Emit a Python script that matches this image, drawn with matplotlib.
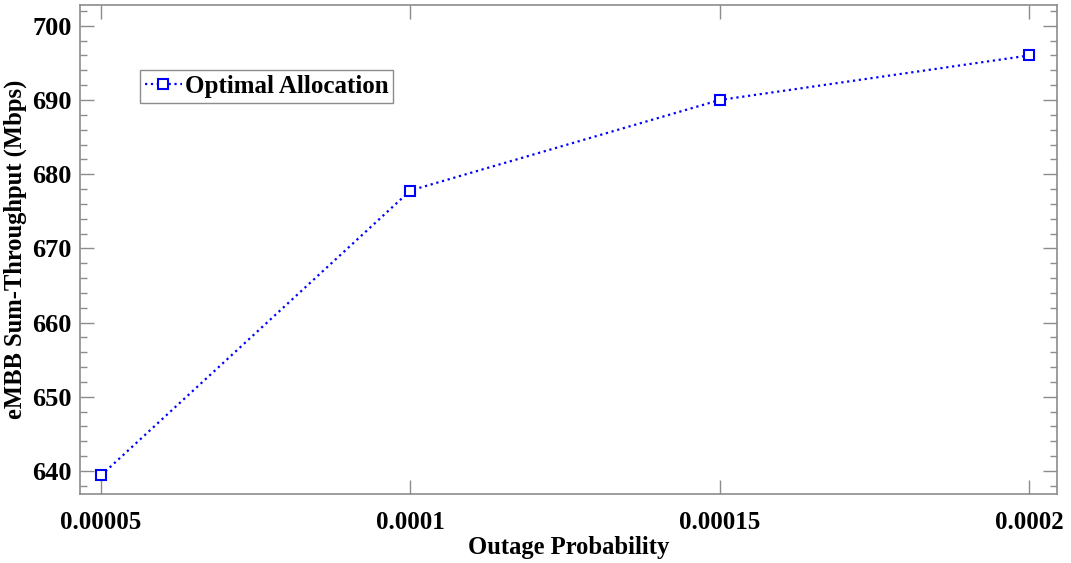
import matplotlib
matplotlib.use('Agg')
import matplotlib.pyplot as plt
import matplotlib.ticker as mticker

# outage probability vs. eMBB throughput
outage_prob = [0.00005, 0.0001, 0.00015, 0.0002]
sum_throughput = [639.4, 677.8, 690.0, 696.0]
xtick_labels = ['0.00005', '0.0001', '0.00015', '0.0002']

plt.rcParams['font.family'] = 'Liberation Serif'
plt.rcParams['font.weight'] = 'bold'

fig = plt.figure(figsize=(10.71, 5.63), dpi=100)
ax = fig.add_axes([0.0747, 0.1226, 0.9122, 0.8685])

ax.plot(outage_prob, sum_throughput, color='blue', linestyle=':', linewidth=1.6,
        marker='s', markersize=6.5, markerfacecolor='white', markeredgecolor='blue',
        markeredgewidth=1.5, label='Optimal Allocation')

ax.set_xlim(0.0000466, 0.0002045)
ax.set_ylim(636.9, 702.8)
ax.set_xticks(outage_prob)
ax.set_xticklabels(xtick_labels)
ax.set_yticks([640, 650, 660, 670, 680, 690, 700])
ax.yaxis.set_minor_locator(mticker.MultipleLocator(2))

ax.tick_params(axis='both', which='both', direction='in', top=True, right=True,
               color='#8c8c8c', width=1.0)
ax.tick_params(axis='x', labelsize=18, pad=12)
ax.tick_params(axis='y', labelsize=19, pad=6)
ax.tick_params(axis='both', which='major', length=10)
ax.tick_params(axis='both', which='minor', length=5)
for lbl in ax.get_xticklabels() + ax.get_yticklabels():
    lbl.set_fontweight('bold')
for sp in ax.spines.values():
    sp.set_color('#8c8c8c')
    sp.set_linewidth(1.2)

ax.set_xlabel('Outage Probability', fontsize=17.7, fontweight='bold', labelpad=2)
ax.set_ylabel('eMBB Sum-Throughput (Mbps)', fontsize=17.7, fontweight='bold', labelpad=4)

leg = ax.legend(loc='upper left', bbox_to_anchor=(0.061, 0.868), fontsize=18,
                fancybox=False, framealpha=1, edgecolor='#8c8c8c',
                handlelength=1.5, handletextpad=0.1, borderpad=0.2,
                borderaxespad=0)
leg.get_frame().set_linewidth(1.0)
for t in leg.get_texts():
    t.set_fontweight('bold')

plt.savefig('out.png', dpi=100)
